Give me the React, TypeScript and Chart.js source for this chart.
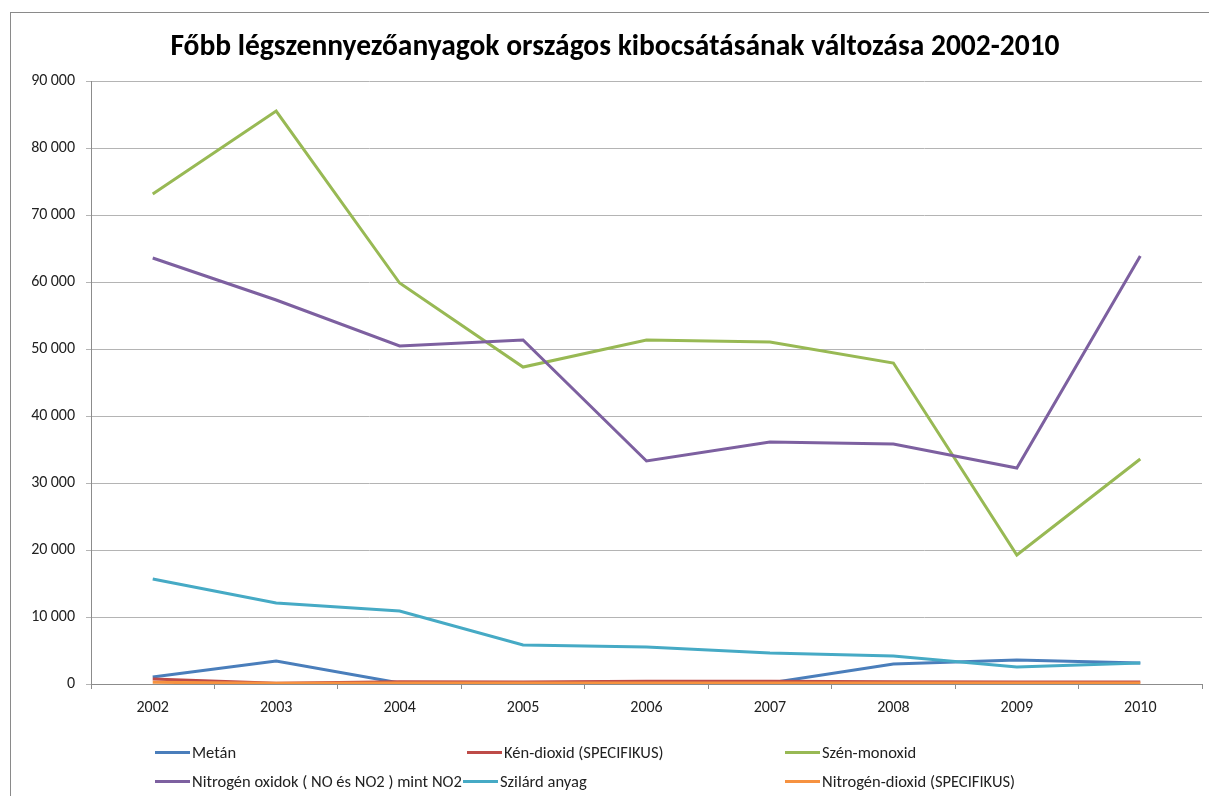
import React, { useEffect, useRef } from "react";
import { Chart, registerables } from "chart.js";

Chart.register(...registerables);

const TITLE = "Főbb légszennyezőanyagok országos kibocsátásának változása 2002-2010";
const years = ["2002", "2003", "2004", "2005", "2006", "2007", "2008", "2009", "2010"];

const metan = [1050, 3430, 150, 150, 150, 150, 2990, 3580, 3130];
const kenDioxid = [750, 100, 350, 300, 400, 400, 350, 300, 300];
const szenMonoxid = [73130, 85520, 59850, 47310, 51340, 51050, 47910, 19250, 33580];
const nitrogenOxidok = [63580, 57310, 50450, 51340, 33280, 36120, 35820, 32240, 63880];
const szilard = [15670, 12090, 10900, 5820, 5520, 4630, 4180, 2540, 3130];
const nitrogenDioxid = [250, 120, 150, 150, 150, 150, 150, 150, 150];

const seriesNames = [
  "Metán",
  "Kén-dioxid (SPECIFIKUS)",
  "Szén-monoxid",
  "Nitrogén oxidok ( NO és NO2 ) mint NO2",
  "Szilárd anyag",
  "Nitrogén-dioxid (SPECIFIKUS)",
];
const seriesValues = [metan, kenDioxid, szenMonoxid, nitrogenOxidok, szilard, nitrogenDioxid];
const seriesColors = ["#4A7EBB", "#BE4B48", "#98B954", "#7D60A0", "#46AAC5", "#F69240"];

const yMin = 0;
const yMax = 90000;
const yStep = 10000;

const FONT = "Carlito, 'Liberation Sans Narrow', 'DejaVu Sans Condensed', 'Open Sans', sans-serif";

function fmt(v: number): string {
  return Math.round(v).toString().replace(/\B(?=(\d{3})+(?!\d))/g, "\u2009");
}

// legend layout: [left, top] for each series
const legendPos: [number, number][] = [
  [155, 742],
  [467, 742],
  [785, 742],
  [155, 771],
  [463, 771],
  [785, 771],
];

export default function App() {
  const ref = useRef<HTMLCanvasElement | null>(null);

  useEffect(() => {
    if (!ref.current) return;
    const chart = new Chart(ref.current, {
      type: "line",
      data: {
        labels: years,
        datasets: seriesValues.map((vals, i) => ({
          label: seriesNames[i],
          data: vals,
          borderColor: seriesColors[i],
          backgroundColor: seriesColors[i],
          borderWidth: 3,
          pointRadius: 0,
          tension: 0,
          order: 6 - i,
        })),
      },
      options: {
        animation: false,
        responsive: false,
        layout: { padding: { left: 0, right: 7, top: 81, bottom: 72 } },
        plugins: { legend: { display: false }, title: { display: false }, tooltip: { enabled: false } },
        scales: {
          x: {
            offset: true,
            afterFit: (s: any) => {
              s.height = 40;
            },
            grid: { offset: true, drawOnChartArea: false, tickLength: 5, color: "#8c8c8c" },
            border: { color: "#8c8c8c" },
            ticks: { color: "#222", font: { family: FONT, size: 16 }, padding: 9, maxRotation: 0 },
          },
          y: {
            min: yMin,
            max: yMax,
            afterFit: (s: any) => {
              s.width = 91;
            },
            grid: { color: "#b4b4b4", tickLength: 5 },
            border: { color: "#8c8c8c" },
            ticks: {
              stepSize: yStep,
              color: "#222",
              font: { family: FONT, size: 16 },
              padding: 11,
              callback: (v: any) => fmt(Number(v)),
            },
          },
        },
      },
    });
    return () => chart.destroy();
  }, []);

  return (
    <div style={{ position: "fixed", left: 0, top: 0, width: 1209, height: 796, background: "#fff", overflow: "hidden" }}>
      <div
        style={{
          position: "absolute",
          left: 10,
          top: 12,
          width: 1199,
          height: 784,
          borderLeft: "1px solid #8a8a8a",
          borderTop: "1px solid #8a8a8a",
          boxSizing: "border-box",
        }}
      />
      <canvas ref={ref} width={1209} height={796} style={{ position: "absolute", left: 0, top: 0 }} />
      <div
        style={{
          position: "absolute",
          left: 65,
          width: 1100,
          top: 27,
          textAlign: "center",
          fontFamily: FONT,
          fontWeight: "bold",
          fontSize: 29.5,
          lineHeight: "36px",
          color: "#000",
          whiteSpace: "nowrap",
        }}
      >
        {TITLE}
      </div>
      {seriesNames.map((name, i) => (
        <div
          key={name}
          style={{
            position: "absolute",
            left: legendPos[i][0],
            top: legendPos[i][1],
            height: 20,
            display: "flex",
            alignItems: "center",
            fontFamily: FONT,
            fontSize: 16.5,
            color: "#222",
            whiteSpace: "nowrap",
          }}
        >
          <span style={{ display: "inline-block", width: 35, height: 3, background: seriesColors[i], marginRight: 2 }} />
          {name}
        </div>
      ))}
    </div>
  );
}
